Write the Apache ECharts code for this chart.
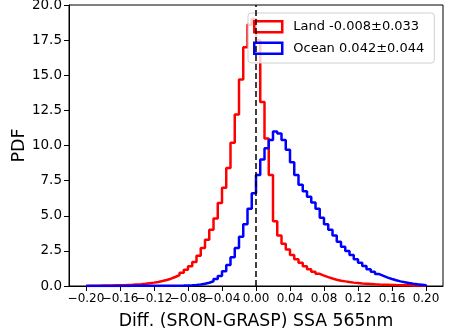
<!DOCTYPE html>
<html>
<head>
<meta charset="utf-8">
<script src="https://cdn.jsdelivr.net/npm/echarts@6/dist/echarts.min.js"></script>
<style>
  html, body { margin: 0; padding: 0; background: #ffffff; }
  #chart { width: 455px; height: 334px; }
</style>
</head>
<body>
<div id="chart"></div>
<script>
// Histogram bins: 80 bins of width 0.005 starting at -0.2
const binStart = -0.2;
const binWidth = 0.005;

// Probability density per bin, Land retrievals
const landPdf = [
  0.02, 0.02, 0.025, 0.03, 0.035, 0.04, 0.045, 0.05, 0.06, 0.075,
  0.09, 0.11, 0.13, 0.16, 0.2, 0.24, 0.29, 0.35, 0.43, 0.52,
  0.64, 0.78, 0.95, 1.15, 1.4, 1.7, 2.15, 2.7, 3.3, 4.0,
  4.8, 5.9, 7.0, 8.4, 10.2, 12.2, 14.7, 17.0, 18.6, 19.0,
  17.5, 13.1, 10.5, 7.9, 4.6, 3.6, 3.0, 2.6, 2.2, 1.9,
  1.65, 1.4, 1.2, 1.02, 0.87, 0.74, 0.63, 0.53, 0.45, 0.38,
  0.33, 0.28, 0.24, 0.21, 0.18, 0.16, 0.14, 0.12, 0.105, 0.095,
  0.085, 0.075, 0.066, 0.058, 0.052, 0.046, 0.04, 0.035, 0.03, 0.025
];

// Probability density per bin, Ocean retrievals
const oceanPdf = [
  0.003, 0.003, 0.004, 0.004, 0.005, 0.005, 0.006, 0.006, 0.007, 0.008,
  0.009, 0.01, 0.011, 0.012, 0.013, 0.014, 0.015, 0.016, 0.018, 0.02,
  0.022, 0.025, 0.03, 0.04, 0.055, 0.08, 0.11, 0.16, 0.23, 0.34,
  0.5, 0.72, 1.05, 1.5, 2.05, 2.7, 3.5, 4.4, 5.5, 6.6,
  7.9, 9.0, 9.8, 10.4, 11.0, 10.85, 10.4, 9.7, 8.8, 7.9,
  7.2, 6.75, 6.35, 5.95, 5.5, 4.85, 4.4, 4.0, 3.6, 3.15,
  2.8, 2.5, 2.2, 1.9, 1.65, 1.42, 1.2, 1.02, 0.85, 0.72,
  0.6, 0.5, 0.41, 0.33, 0.27, 0.21, 0.16, 0.12, 0.09, 0.06
];

const seriesNames = ['Land -0.008±0.033', 'Ocean 0.042±0.044'];
const seriesColors = ['#ff0000', '#0000ff'];

const xTicks = [-0.2, -0.16, -0.12, -0.08, -0.04, 0, 0.04, 0.08, 0.12, 0.16, 0.2];
const xRange = [-0.22, 0.22];
const yRange = [0, 20];
const yStep = 2.5;

const xTitle = 'Diff. (SRON-GRASP) SSA 565nm';
const yTitle = 'PDF';

const FONT = 'DejaVu Sans';

// Outline of a step histogram: up from zero at the first edge, across each bin, down at the last edge
function stepOutline(values) {
  const pts = [[binStart, 0]];
  values.forEach(function (v, i) { pts.push([binStart + i * binWidth, v]); });
  const end = binStart + values.length * binWidth;
  pts.push([end, values[values.length - 1]]);
  pts.push([end, 0]);
  return pts;
}

function fmtX(v) {
  return (v < 0 ? '\u2212' : '') + Math.abs(v).toFixed(2);
}

// The x tick labels sit almost edge to edge, so alternate ones go on a second,
// label-only axis; that way no label gets dropped as an overlap.
const xTicksA = xTicks.filter(function (_, i) { return i % 2 === 0; });
const xTicksB = xTicks.filter(function (_, i) { return i % 2 === 1; });

const chart = echarts.init(document.getElementById('chart'), null, { renderer: 'canvas' });

const axisLineStyle = { color: '#000000', width: 1 };
const xLabelStyle = { formatter: fmtX, margin: 7, fontSize: 12, color: '#000000', fontFamily: FONT };

chart.setOption({
  animation: false,
  backgroundColor: '#ffffff',
  textStyle: { fontFamily: FONT },
  grid: {
    left: 69, right: 12, top: 5, bottom: 48,
    containLabel: false,
    outerBoundsMode: 'none',
    show: true, borderColor: '#000000', borderWidth: 1,
    backgroundColor: 'transparent'
  },
  xAxis: [
    {
      type: 'value', position: 'bottom',
      min: xRange[0], max: xRange[1],
      axisLine: { show: true, onZero: false, lineStyle: axisLineStyle },
      axisTick: { show: true, inside: false, length: 5, customValues: xTicks, lineStyle: axisLineStyle },
      axisLabel: Object.assign({ customValues: xTicksA }, xLabelStyle),
      splitLine: { show: false },
      name: xTitle, nameLocation: 'middle', nameGap: 27,
      nameTextStyle: { fontSize: 17.3, color: '#000000', fontFamily: FONT }
    },
    {
      type: 'value', position: 'bottom', offset: 0,
      min: xRange[0], max: xRange[1],
      axisLine: { show: false, onZero: false },
      axisTick: { show: false },
      axisLabel: Object.assign({ customValues: xTicksB }, xLabelStyle),
      splitLine: { show: false }
    }
  ],
  yAxis: {
    type: 'value',
    min: yRange[0], max: yRange[1], interval: yStep,
    axisLine: { show: true, onZero: false, lineStyle: axisLineStyle },
    axisTick: { show: true, inside: false, length: 5, lineStyle: axisLineStyle },
    axisLabel: {
      formatter: function (v) { return v.toFixed(1); }, margin: 7,
      fontSize: 13.5, color: '#000000', fontFamily: FONT
    },
    splitLine: { show: false },
    name: yTitle, nameLocation: 'middle', nameGap: 41, nameMoveOverlap: false,
    nameTextStyle: { fontSize: 17.5, color: '#000000', fontFamily: FONT }
  },
  legend: {
    orient: 'vertical',
    left: 248, top: 13,
    padding: [7, 10, 8, 5],
    itemGap: 8,
    itemWidth: 28, itemHeight: 11,
    backgroundColor: 'rgba(255,255,255,0.8)',
    borderColor: '#d0d0d0', borderWidth: 1, borderRadius: 3,
    textStyle: { fontSize: 13, color: '#000000', fontFamily: FONT, padding: [0, 0, 0, 6] },
    data: seriesNames.map(function (name, i) {
      return {
        name: name, icon: 'rect',
        itemStyle: { color: 'rgba(0,0,0,0)', borderColor: seriesColors[i], borderWidth: 2.5 }
      };
    })
  },
  series: [
    {
      name: seriesNames[0], type: 'line', step: 'end',
      data: stepOutline(landPdf),
      showSymbol: false, symbol: 'none',
      lineStyle: { color: seriesColors[0], width: 2.5 },
      itemStyle: { color: seriesColors[0] },
      z: 2
    },
    {
      name: seriesNames[1], type: 'line', step: 'end',
      data: stepOutline(oceanPdf),
      showSymbol: false, symbol: 'none',
      lineStyle: { color: seriesColors[1], width: 2.5 },
      itemStyle: { color: seriesColors[1] },
      z: 3,
      markLine: {
        silent: true, symbol: ['none', 'none'],
        label: { show: false },
        lineStyle: { color: '#000000', type: [6, 3], width: 1.5 },
        data: [{ xAxis: 0 }]
      }
    }
  ]
});
</script>
</body>
</html>
